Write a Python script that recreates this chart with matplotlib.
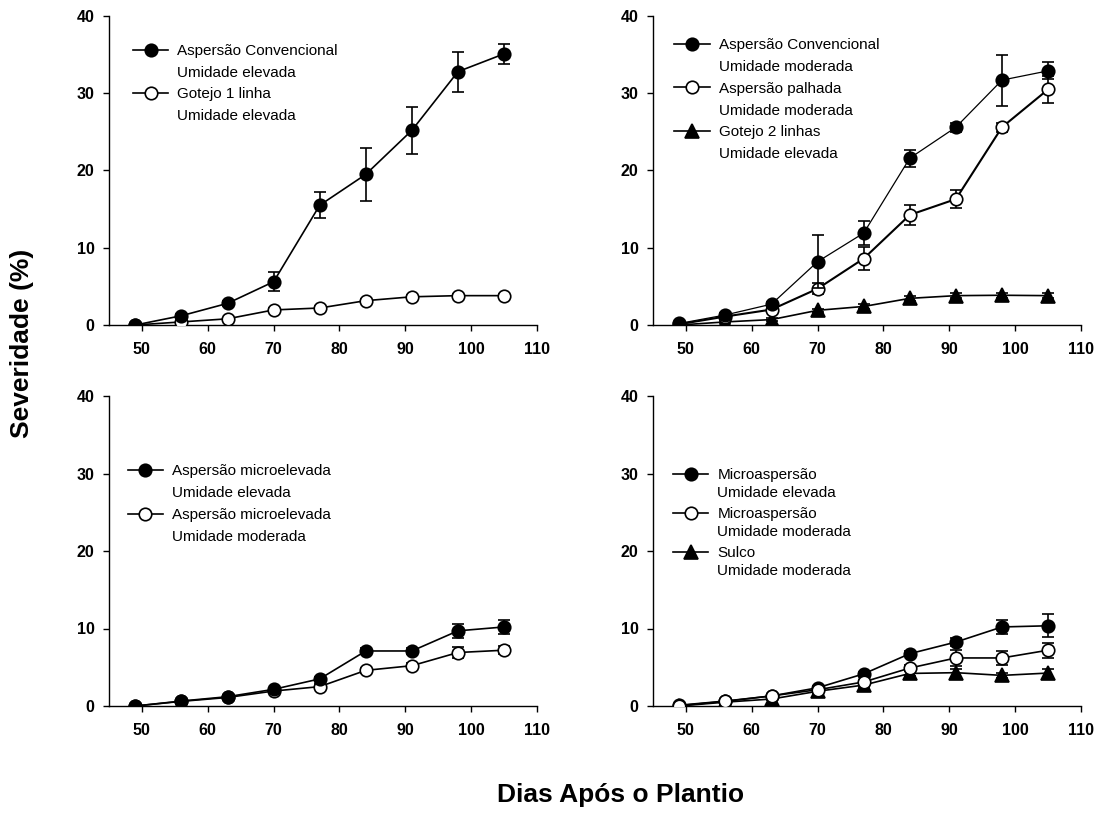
import matplotlib
matplotlib.use("Agg")
import matplotlib.pyplot as plt
from matplotlib.lines import Line2D

plt.rcParams['font.family'] = ['Liberation Sans', 'DejaVu Sans']

days = [49, 56, 63, 70, 77, 84, 91, 98, 105]

# Panel A (top-left)
a_conv_elev = [0.0, 1.2, 2.8, 5.6, 15.5, 19.5, 25.2, 32.8, 35.1]
a_conv_elev_err = [0.0, 0.2, 0.3, 1.2, 1.7, 3.45, 3.0, 2.6, 1.3]
a_gotejo1 = [0.0, 0.4, 0.8, 1.95, 2.2, 3.15, 3.65, 3.8, 3.8]
a_gotejo1_err = [0.0, 0.1, 0.1, 0.25, 0.2, 0.2, 0.2, 0.2, 0.2]

# Panel B (top-right)
b_conv_mod = [0.2, 1.3, 2.7, 8.2, 11.9, 21.6, 25.6, 31.7, 32.9]
b_conv_mod_err = [0.1, 0.2, 0.3, 3.4, 1.5, 1.1, 0.6, 3.3, 1.1]
b_palhada = [0.1, 1.1, 2.0, 4.7, 8.6, 14.25, 16.3, 25.6, 30.5]
b_palhada_err = [0.1, 0.2, 0.3, 0.7, 1.45, 1.3, 1.2, 0.6, 1.75]
b_gotejo2 = [0.0, 0.4, 0.7, 1.9, 2.4, 3.45, 3.8, 3.85, 3.8]
b_gotejo2_err = [0.0, 0.1, 0.2, 0.2, 0.3, 0.3, 0.3, 0.3, 0.3]

# Panel C (bottom-left)
c_micro_elev = [0.0, 0.64, 1.2, 2.15, 3.5, 7.1, 7.1, 9.7, 10.2]
c_micro_elev_err = [0.0, 0.1, 0.2, 0.2, 0.3, 0.4, 0.4, 0.9, 0.9]
c_micro_mod = [0.0, 0.6, 1.1, 1.93, 2.5, 4.6, 5.2, 6.9, 7.2]
c_micro_mod_err = [0.0, 0.1, 0.1, 0.2, 0.3, 0.3, 0.3, 0.75, 0.5]

# Panel D (bottom-right)
d_micro_elev = [0.1, 0.64, 1.3, 2.35, 4.15, 6.75, 8.25, 10.2, 10.35]
d_micro_elev_err = [0.0, 0.1, 0.2, 0.2, 0.3, 0.3, 0.5, 0.9, 1.5]
d_micro_mod = [0.05, 0.6, 1.3, 2.1, 3.1, 4.9, 6.2, 6.2, 7.2]
d_micro_mod_err = [0.0, 0.1, 0.2, 0.2, 0.3, 0.4, 1.0, 0.85, 0.95]
d_sulco = [0.0, 0.5, 0.9, 1.9, 2.7, 4.2, 4.3, 3.95, 4.25]
d_sulco_err = [0.0, 0.1, 0.1, 0.2, 0.3, 0.3, 0.5, 0.3, 0.5]

x_ticks = [50, 60, 70, 80, 90, 100, 110]
y_ticks = [0, 10, 20, 30, 40]

W, H = 1105, 815
fig = plt.figure(figsize=(W / 100, H / 100), dpi=100)


def add_ax(left, top, right, bottom):
    return fig.add_axes([left / W, 1 - bottom / H, (right - left) / W, (bottom - top) / H])


axA = add_ax(109, 16, 537, 325)
axB = add_ax(653, 16, 1081, 325)
axC = add_ax(109, 396, 537, 706)
axD = add_ax(653, 396, 1081, 706)

MS = {'filled': 9, 'open': 9, 'tri': 9.5}
CAP = 4.5

styles = {
    'filled': dict(marker='o', mfc='black', mec='black'),
    'open': dict(marker='o', mfc='white', mec='black'),
    'tri': dict(marker='^', mfc='black', mec='black'),
}


def series(ax, y, err, kind, lw=1.2, z=3):
    st = styles[kind]
    ax.errorbar(days, y, yerr=err, color='black', lw=lw, ms=MS[kind], mew=1.2,
                capsize=CAP, elinewidth=1.2, capthick=1.2, zorder=z, **st)


def handle(kind):
    st = styles[kind]
    return Line2D([], [], color='black', lw=1.2, ms=MS[kind], mew=1.2, **st)


blank = Line2D([], [], linestyle='none', marker='')


def style_ax(ax):
    ax.set_xlim(45, 110)
    ax.set_ylim(0, 40)
    ax.set_xticks(x_ticks)
    ax.set_yticks(y_ticks)
    for s in ('top', 'right'):
        ax.spines[s].set_visible(False)
    for s in ('left', 'bottom'):
        ax.spines[s].set_linewidth(1.0)
    ax.tick_params(direction='out', length=4.5, width=1.0, labelsize=11.5)
    ax.tick_params(axis='x', pad=8)
    ax.tick_params(axis='y', pad=6)
    for lab in ax.get_xticklabels() + ax.get_yticklabels():
        lab.set_fontweight('bold')


def legend(ax, entries, anchor, spacing=0.52, add=False):
    handles, labels = [], []
    for kind, l1, l2 in entries:
        handles += [handle(kind), blank]
        labels += [l1, l2]
    leg = ax.legend(handles, labels, loc='upper left', bbox_to_anchor=anchor,
                    frameon=False, fontsize=11, handlelength=2.3, handletextpad=0.6,
                    labelspacing=spacing, borderpad=0, borderaxespad=0)
    if add:
        ax.add_artist(leg)
        ax.legend_ = None
    return leg


series(axA, a_gotejo1, a_gotejo1_err, 'open')
series(axA, a_conv_elev, a_conv_elev_err, 'filled', z=4)
legend(axA, [('filled', 'Aspersão Convencional', 'Umidade elevada'),
             ('open', 'Gotejo 1 linha', 'Umidade elevada')], (0.056, 0.909), spacing=0.49)

series(axB, b_gotejo2, b_gotejo2_err, 'tri')
series(axB, b_palhada, b_palhada_err, 'open', lw=1.5)
series(axB, b_conv_mod, b_conv_mod_err, 'filled', lw=0.9, z=4)
legend(axB, [('filled', 'Aspersão Convencional', 'Umidade moderada'),
             ('open', 'Aspersão palhada', 'Umidade moderada'),
             ('tri', 'Gotejo 2 linhas', 'Umidade elevada')], (0.05, 0.928), spacing=0.51)

series(axC, c_micro_mod, c_micro_mod_err, 'open')
series(axC, c_micro_elev, c_micro_elev_err, 'filled', z=4)
legend(axC, [('filled', 'Aspersão microelevada', 'Umidade elevada'),
             ('open', 'Aspersão microelevada', 'Umidade moderada')], (0.044, 0.781), spacing=0.53)

series(axD, d_sulco, d_sulco_err, 'tri')
series(axD, d_micro_mod, d_micro_mod_err, 'open', z=4)
series(axD, d_micro_elev, d_micro_elev_err, 'filled', z=3.5)
d_entries = [('filled', 'Microaspersão', 'Umidade elevada'),
             ('open', 'Microaspersão', 'Umidade moderada'),
             ('tri', 'Sulco', 'Umidade moderada')]
for i, entry in enumerate(d_entries):
    legend(axD, [entry], (0.047, 0.768 - i * 0.1258), spacing=0.24, add=True)

for ax in (axA, axB, axC, axD):
    style_ax(ax)

fig.text(22 / W, 1 - 343 / H, 'Severidade (%)', rotation=90, ha='center', va='center',
         fontsize=19, fontweight='bold')
fig.text(621 / W, 1 - 795 / H, 'Dias Após o Plantio', ha='center', va='center',
         fontsize=19, fontweight='bold')

fig.savefig('out.png', dpi=100)
